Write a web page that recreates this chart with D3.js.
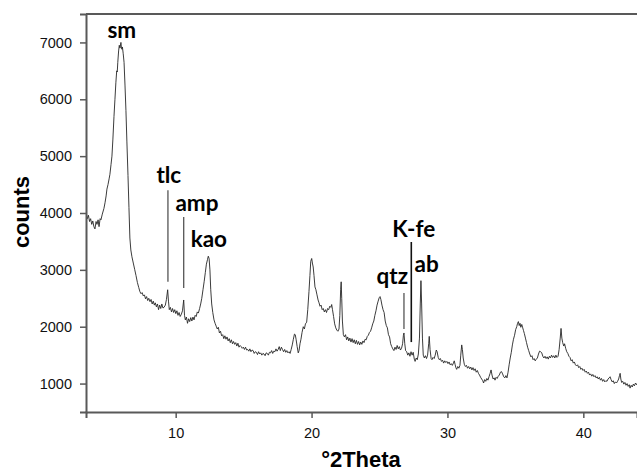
<!DOCTYPE html>
<html>
<head>
<meta charset="utf-8">
<script src="https://cdn.jsdelivr.net/npm/d3@7/dist/d3.min.js"></script>
<style>
  html, body { margin: 0; padding: 0; background: #fff; }
  svg { display: block; }
</style>
</head>
<body>
<svg id="chart" width="637" height="473"></svg>
<script>
// ---- Data ----
const xTicks = [10, 20, 30, 40];
const yTicks = [1000, 2000, 3000, 4000, 5000, 6000, 7000];
const xDomain = [3.4, 43.95];
const yDomain = [500, 7500];

// diffraction scan: [°2Theta, counts]
const scan = [
[3.40,4020],[3.50,3900],[3.58,3960],[3.66,3850],[3.74,3900],[3.82,3800],[3.90,3860],[3.98,3760],
[4.06,3720],[4.14,3850],[4.21,3800],[4.29,3880],[4.36,3760],[4.44,3900],[4.50,3880],[4.60,3980],
[4.72,4080],[4.80,4180],[4.88,4300],[4.94,4420],[5.02,4500],[5.10,4600],[5.16,4680],[5.24,4850],
[5.31,5000],[5.38,5300],[5.46,5700],[5.53,6000],[5.60,6300],[5.66,6500],[5.70,6480],[5.74,6650],
[5.80,6850],[5.85,6950],[5.90,6900],[5.97,7000],[6.01,6900],[6.04,6880],[6.08,6920],[6.14,6800],
[6.20,6650],[6.27,6250],[6.34,5800],[6.41,5250],[6.49,4660],[6.56,4100],[6.63,3560],[6.70,3350],
[6.78,3230],[6.88,3120],[6.98,3010],[7.08,2900],[7.18,2780],[7.28,2690],[7.37,2615],[7.45,2580],
[7.53,2600],[7.62,2540],[7.70,2560],[7.78,2490],[7.86,2530],[7.94,2460],[8.02,2500],[8.11,2440],
[8.19,2480],[8.27,2400],[8.35,2450],[8.43,2380],[8.50,2420],[8.58,2350],[8.66,2400],[8.74,2300],
[8.82,2380],[8.90,2320],[8.98,2400],[9.06,2330],[9.14,2340],[9.24,2380],[9.32,2480],[9.41,2650],
[9.47,2450],[9.53,2300],[9.61,2340],[9.69,2260],[9.77,2320],[9.85,2250],[9.93,2300],[10.01,2230],
[10.09,2280],[10.17,2200],[10.25,2250],[10.33,2180],[10.42,2220],[10.50,2280],[10.59,2470],[10.65,2200],
[10.71,2120],[10.79,2170],[10.87,2060],[10.95,2140],[11.03,2090],[11.11,2160],[11.19,2100],[11.27,2170],
[11.35,2120],[11.43,2200],[11.51,2180],[11.59,2260],[11.67,2240],[11.76,2320],[11.84,2400],[11.92,2500],
[12.01,2650],[12.10,2800],[12.18,2950],[12.26,3100],[12.34,3180],[12.40,3240],[12.46,3200],[12.52,3000],
[12.58,2650],[12.65,2400],[12.73,2250],[12.82,2120],[12.90,2060],[12.98,2010],[13.06,1960],[13.14,1990],
[13.22,1890],[13.30,1920],[13.38,1840],[13.46,1860],[13.54,1790],[13.62,1840],[13.70,1780],[13.78,1820],
[13.86,1750],[13.94,1790],[14.02,1720],[14.10,1770],[14.18,1700],[14.26,1740],[14.34,1690],[14.42,1720],
[14.50,1660],[14.58,1710],[14.66,1640],[14.74,1670],[14.82,1650],[14.90,1620],[14.98,1640],[15.06,1600],
[15.14,1640],[15.22,1590],[15.30,1600],[15.38,1570],[15.46,1610],[15.54,1560],[15.62,1590],[15.70,1580],
[15.78,1530],[15.86,1560],[15.94,1550],[16.02,1510],[16.10,1560],[16.18,1520],[16.26,1540],[16.34,1500],
[16.42,1530],[16.50,1520],[16.58,1490],[16.66,1540],[16.74,1530],[16.82,1500],[16.90,1550],[16.98,1540],
[17.06,1580],[17.14,1530],[17.22,1570],[17.30,1560],[17.38,1610],[17.46,1570],[17.54,1600],[17.62,1650],
[17.70,1580],[17.78,1640],[17.86,1600],[17.94,1560],[18.02,1600],[18.10,1550],[18.18,1580],[18.26,1540],
[18.34,1560],[18.42,1530],[18.50,1600],[18.58,1680],[18.66,1780],[18.74,1870],[18.80,1860],[18.86,1780],
[18.94,1650],[19.02,1540],[19.08,1580],[19.15,1700],[19.22,1780],[19.30,1900],[19.39,2000],[19.47,1960],
[19.55,2050],[19.64,2080],[19.72,2300],[19.81,2620],[19.88,2900],[19.94,3150],[20.01,3200],[20.06,3120],
[20.12,3050],[20.18,2900],[20.25,2700],[20.32,2650],[20.40,2560],[20.48,2470],[20.55,2420],[20.62,2360],
[20.70,2380],[20.78,2300],[20.86,2320],[20.94,2260],[21.02,2300],[21.10,2250],[21.18,2320],[21.26,2300],
[21.34,2360],[21.42,2340],[21.48,2390],[21.54,2300],[21.62,2180],[21.70,2050],[21.78,1980],[21.86,1940],
[21.94,1920],[22.02,1960],[22.08,2200],[22.14,2650],[22.18,2790],[22.22,2500],[22.27,2100],[22.34,1860],
[22.42,1820],[22.50,1860],[22.58,1770],[22.66,1820],[22.74,1750],[22.82,1800],[22.90,1730],[22.98,1790],
[23.06,1720],[23.14,1770],[23.22,1700],[23.30,1760],[23.38,1690],[23.46,1740],[23.54,1680],[23.62,1730],
[23.70,1690],[23.78,1750],[23.86,1720],[23.94,1780],[24.02,1770],[24.10,1830],[24.18,1850],[24.26,1900],
[24.34,1920],[24.42,1980],[24.50,2050],[24.58,2100],[24.66,2200],[24.74,2280],[24.82,2380],[24.90,2450],
[24.98,2510],[25.04,2530],[25.10,2480],[25.18,2380],[25.26,2300],[25.34,2250],[25.42,2100],[25.50,2020],
[25.58,1980],[25.66,1860],[25.74,1820],[25.82,1700],[25.90,1650],[25.98,1610],[26.06,1580],[26.14,1640],
[26.22,1600],[26.30,1670],[26.38,1610],[26.46,1650],[26.54,1590],[26.62,1620],[26.70,1700],[26.76,1850],
[26.80,1890],[26.86,1700],[26.92,1580],[27.00,1560],[27.08,1500],[27.16,1540],[27.24,1480],[27.32,1560],
[27.40,1500],[27.48,1550],[27.56,1430],[27.62,1390],[27.70,1450],[27.78,1420],[27.86,1520],[27.94,1800],
[28.00,2400],[28.05,2810],[28.10,2400],[28.16,1800],[28.22,1500],[28.30,1450],[28.38,1490],[28.46,1440],
[28.54,1500],[28.62,1700],[28.66,1830],[28.72,1600],[28.80,1440],[28.86,1420],[28.94,1460],[29.02,1440],
[29.10,1500],[29.18,1590],[29.24,1560],[29.32,1460],[29.40,1420],[29.48,1440],[29.56,1390],[29.64,1410],
[29.72,1360],[29.80,1400],[29.88,1370],[29.96,1390],[30.04,1350],[30.12,1380],[30.20,1330],[30.28,1350],
[30.36,1320],[30.44,1360],[30.50,1400],[30.56,1340],[30.62,1280],[30.68,1250],[30.76,1300],[30.84,1270],
[30.92,1320],[30.98,1500],[31.05,1680],[31.10,1600],[31.16,1450],[31.24,1340],[31.32,1300],[31.40,1320],
[31.48,1270],[31.56,1300],[31.64,1260],[31.72,1290],[31.80,1240],[31.88,1280],[31.96,1230],[32.04,1260],
[32.12,1200],[32.20,1230],[32.28,1180],[32.36,1150],[32.44,1110],[32.52,1080],[32.60,1050],[32.66,1010],
[32.74,1070],[32.82,1040],[32.90,1090],[32.98,1060],[33.06,1120],[33.14,1180],[33.21,1240],[33.28,1150],
[33.36,1080],[33.44,1100],[33.50,1060],[33.58,1110],[33.66,1090],[33.74,1130],[33.82,1150],[33.90,1200],
[33.98,1210],[34.06,1170],[34.14,1120],[34.22,1100],[34.30,1140],[34.38,1100],[34.46,1200],[34.54,1330],
[34.62,1450],[34.70,1550],[34.78,1680],[34.86,1780],[34.94,1850],[35.02,1950],[35.10,2000],[35.16,2060],
[35.22,2090],[35.28,2020],[35.34,2060],[35.40,1990],[35.47,2040],[35.54,1980],[35.60,1930],[35.66,1880],
[35.74,1800],[35.82,1720],[35.90,1640],[35.98,1580],[36.06,1520],[36.14,1470],[36.22,1490],[36.30,1420],
[36.38,1440],[36.46,1400],[36.54,1430],[36.62,1450],[36.70,1520],[36.78,1570],[36.86,1560],[36.94,1540],
[37.02,1480],[37.10,1450],[37.18,1480],[37.26,1440],[37.34,1470],[37.42,1430],[37.50,1480],[37.58,1450],
[37.66,1500],[37.74,1460],[37.82,1490],[37.90,1450],[37.98,1500],[38.06,1460],[38.14,1480],[38.22,1600],
[38.30,1800],[38.36,1970],[38.42,1800],[38.48,1720],[38.56,1660],[38.62,1700],[38.70,1620],[38.78,1560],
[38.86,1530],[38.94,1480],[39.02,1460],[39.10,1400],[39.18,1420],[39.26,1360],[39.34,1380],[39.42,1330],
[39.50,1310],[39.58,1330],[39.66,1280],[39.74,1300],[39.82,1250],[39.90,1270],[39.98,1230],[40.06,1250],
[40.14,1200],[40.22,1220],[40.30,1180],[40.38,1200],[40.46,1150],[40.54,1170],[40.62,1130],[40.70,1160],
[40.78,1120],[40.86,1140],[40.94,1100],[41.02,1120],[41.10,1080],[41.18,1110],[41.26,1060],[41.34,1090],
[41.42,1040],[41.50,1070],[41.58,1030],[41.66,1050],[41.74,1040],[41.82,1080],[41.90,1100],[41.97,1120],
[42.04,1070],[42.12,1030],[42.20,1050],[42.28,1000],[42.36,1030],[42.44,1010],[42.52,1040],[42.60,1080],
[42.66,1140],[42.71,1180],[42.76,1080],[42.82,1020],[42.90,1040],[42.98,990],[43.06,1020],[43.14,970],
[43.22,1000],[43.30,950],[43.38,980],[43.44,920],[43.52,970],[43.60,940],[43.68,990],[43.76,960],
[43.84,1010],[43.92,980],[44.00,1010]
];

// peak labels: text, anchor °2Theta, baseline counts
const peakNames  = ["sm", "tlc", "amp", "kao", "K-fe", "qtz", "ab"];
const labelTheta = [4.98, 8.58, 9.98, 11.10, 25.94, 24.78, 27.58];
const labelCount = [7070, 4530, 4040, 3400, 3580, 2745, 2965];

// marker lines: °2Theta, top counts, bottom counts
const markerNames  = ["tlc", "amp", "qtz", "K-fe"];
const markerTheta  = [9.43, 10.59, 26.80, 27.34];
const markerTop    = [4400, 3930, 2595, 3490];
const markerBottom = [2790, 2680, 1960, 1730];

// ---- Layout ----
const W = 637, H = 473;
const margin = { top: 14, right: 0, bottom: 61, left: 86 };
const iw = W - margin.left - margin.right;
const ih = H - margin.top - margin.bottom;

const svg = d3.select("#chart");
const g = svg.append("g").attr("transform", `translate(${margin.left},${margin.top})`);

const x = d3.scaleLinear().domain(xDomain).range([0, iw]);
const y = d3.scaleLinear().domain(yDomain).range([ih, 0]);

svg.append("defs").append("clipPath").attr("id", "clip")
  .append("rect").attr("x", 0).attr("y", 0).attr("width", iw).attr("height", ih);

// curve
const line = d3.line().x(d => x(d[0])).y(d => y(d[1]));
g.append("path")
  .datum(scan)
  .attr("clip-path", "url(#clip)")
  .attr("fill", "none")
  .attr("stroke", "#262626")
  .attr("stroke-width", 0.9)
  .attr("stroke-linejoin", "round")
  .attr("d", line);

// marker lines
const markers = markerNames.map((n, i) => ({ n, t: markerTheta[i], top: markerTop[i], bot: markerBottom[i] }));
g.selectAll(".marker").data(markers).enter().append("line")
  .attr("class", "marker")
  .attr("x1", d => x(d.t)).attr("x2", d => x(d.t))
  .attr("y1", d => y(d.top)).attr("y2", d => y(d.bot))
  .attr("stroke", d => d.n === "K-fe" ? "#111" : "#555")
  .attr("stroke-width", d => d.n === "K-fe" ? 1.6 : 1.3);

// peak labels
const labels = peakNames.map((n, i) => ({ n, t: labelTheta[i], c: labelCount[i] }));
g.selectAll(".peak").data(labels).enter().append("text")
  .attr("class", "peak")
  .attr("x", d => x(d.t)).attr("y", d => y(d.c))
  .attr("font-family", "Lato, 'Open Sans', sans-serif")
  .attr("font-weight", 700)
  .attr("font-size", 22.5)
  .attr("fill", "#000")
  .text(d => d.n);

// axes
const axisColor = "#595959";
const xAxis = g.append("g").attr("transform", `translate(0,${ih})`)
  .call(d3.axisBottom(x).tickValues(xTicks).tickSizeOuter(0).tickSize(6).tickPadding(10).tickFormat(d3.format("d")));
const yAxis = g.append("g")
  .call(d3.axisLeft(y).tickValues(yTicks).tickSizeOuter(0).tickSize(6).tickPadding(8).tickFormat(d3.format("d")));

[xAxis, yAxis].forEach(a => {
  a.select(".domain").attr("stroke", axisColor).attr("stroke-width", 2);
  a.selectAll(".tick line").attr("stroke", axisColor).attr("stroke-width", 1.5);
  a.selectAll(".tick text")
    .attr("font-family", "'Liberation Sans', Arial, sans-serif")
    .attr("font-size", 14.5)
    .attr("fill", "#111");
});

// top frame line
g.append("line")
  .attr("x1", x.range()[0]).attr("x2", x.range()[1])
  .attr("y1", 0).attr("y2", 0)
  .attr("stroke", axisColor).attr("stroke-width", 2);

// axis titles
svg.append("text")
  .attr("x", 361)
  .attr("y", 467)
  .attr("text-anchor", "middle")
  .attr("font-family", "'Liberation Sans', Arial, sans-serif")
  .attr("font-weight", 700)
  .attr("font-size", 22)
  .attr("fill", "#000")
  .text("°2Theta");

svg.append("text")
  .attr("transform", `translate(29,${212}) rotate(-90)`)
  .attr("text-anchor", "middle")
  .attr("font-family", "'Liberation Sans', Arial, sans-serif")
  .attr("font-weight", 700)
  .attr("font-size", 22)
  .attr("fill", "#000")
  .text("counts");
</script>
</body>
</html>
